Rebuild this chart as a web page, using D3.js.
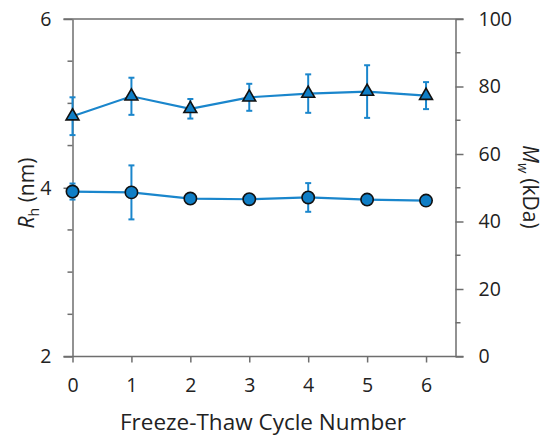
<!DOCTYPE html>
<html><head><meta charset="utf-8">
<script src="https://cdn.jsdelivr.net/npm/d3@7/dist/d3.min.js"></script>
<style>body{margin:0;background:#fff}svg{display:block}text{font-family:"Open Sans",sans-serif;fill:#222}</style>
</head><body><svg id="c" width="548" height="436"></svg>
<script>
const cycles = [0,1,2,3,4,5,6];
const rh = [3.955,3.945,3.872,3.864,3.885,3.860,3.848];
const rhErr = [0.095,0.32,0.03,0.03,0.17,0.02,0.02];
const mw = [71.2,77.1,73.4,76.8,77.9,78.5,77.3];
const mwErr = [5.6,5.5,2.9,4.0,5.7,7.8,4.0];
const xTicks = [0,1,2,3,4,5,6];
const rhTicks = [2,4,6];
const rhMinor = [2.5,3,3.5,4.5,5,5.5];
const mwTicks = [0,20,40,60,80,100];
const mwMinor = [10,30,50,70,90];

const svg = d3.select("#c");
const FONT = "'Open Sans', sans-serif";
const L=72.5, R=455.5, T=19, B=356.5;
const x = d3.scaleLinear().domain([0,6.5]).range([L,R]);
const yL = d3.scaleLinear().domain([2,6]).range([B,T]);
const yR = d3.scaleLinear().domain([0,100]).range([B,T]);
const blue="#1a86cc", fillB="#0f7ec6", axisC="#6e6e6e";

svg.append("line").attr("x1",L-9).attr("x2",R+8).attr("y1",T).attr("y2",T).attr("stroke",axisC).attr("stroke-width",1.5);
const ax = d3.axisBottom(x).tickValues(xTicks).tickFormat(d3.format("d")).tickSize(6).tickSizeOuter(0).tickPadding(16);
const gx = svg.append("g").attr("transform",`translate(0,${B})`).call(ax);
gx.select(".domain").attr("d",`M${L-9},0H${R+8}`);
const ayL = d3.axisLeft(yL).tickValues(rhTicks).tickFormat(d3.format("d")).tickSize(9).tickSizeOuter(0).tickPadding(12);
const gyl = svg.append("g").attr("transform",`translate(${L},0)`).call(ayL);
gyl.selectAll(".minor").data(rhMinor).enter().append("line").attr("x1",-5).attr("x2",0).attr("y1",d=>yL(d)).attr("y2",d=>yL(d)).attr("stroke",axisC).attr("stroke-width",1.5);
const ayR = d3.axisRight(yR).tickValues(mwTicks).tickFormat(d3.format("d")).tickSize(8).tickSizeOuter(0).tickPadding(15);
const gyr = svg.append("g").attr("transform",`translate(${R},0)`).call(ayR);
gyr.selectAll(".minor").data(mwMinor).enter().append("line").attr("x1",0).attr("x2",5).attr("y1",d=>yR(d)).attr("y2",d=>yR(d)).attr("stroke",axisC).attr("stroke-width",1.5);
[gx,gyl,gyr].forEach(a=>{
  a.attr("font-family",FONT).attr("font-size",19.5);
  a.selectAll(".domain").attr("stroke",axisC).attr("stroke-width",1.5);
  a.selectAll(".tick line").attr("stroke",axisC).attr("stroke-width",1.5);
  a.selectAll(".tick text").attr("fill","#222");
});

svg.append("text").attr("x",263).attr("y",430).attr("text-anchor","middle").style("font-size","22.5px").text("Freeze-Thaw Cycle Number");
const tl = svg.append("text").attr("transform","translate(34,193) rotate(-90)").attr("text-anchor","middle").style("font-size","21px");
tl.append("tspan").style("font-style","italic").text("R");
tl.append("tspan").attr("dy",5).style("font-size","14px").text("h");
tl.append("tspan").attr("dy",-5).text(" (nm)");
const tr = svg.append("text").attr("transform","translate(523,187) rotate(90)").attr("text-anchor","middle").style("font-size","21px");
tr.append("tspan").style("font-style","italic").text("M");
tr.append("tspan").attr("dy",5).style("font-size","14px").style("font-style","italic").text("w");
tr.append("tspan").attr("dy",-5).text(" (kDa)");

function series(vals, errs, y, sym){
  const s = svg.append("g");
  const pts = cycles.map((c,i)=>({c, v:vals[i], e:errs[i]}));
  s.append("path").datum(pts).attr("fill","none").attr("stroke",blue).attr("stroke-width",2.2)
   .attr("d",d3.line().x(d=>x(d.c)).y(d=>y(d.v)));
  const eb = s.selectAll(".eb").data(pts).enter().append("g");
  eb.append("line").attr("x1",d=>x(d.c)).attr("x2",d=>x(d.c)).attr("y1",d=>y(d.v-d.e)).attr("y2",d=>y(d.v+d.e)).attr("stroke",blue).attr("stroke-width",2);
  ["-","+"].forEach(sg=>eb.append("line").attr("x1",d=>x(d.c)-3).attr("x2",d=>x(d.c)+3)
     .attr("y1",d=>y(sg=="+"?d.v+d.e:d.v-d.e)).attr("y2",d=>y(sg=="+"?d.v+d.e:d.v-d.e)).attr("stroke",blue).attr("stroke-width",2));
  s.selectAll(".m").data(pts).enter().append("path")
   .attr("transform",d=>`translate(${x(d.c)},${y(d.v)})`)
   .attr("d",d3.symbol().type(sym).size(sym===d3.symbolCircle?120:72))
   .attr("fill",fillB).attr("stroke","#111").attr("stroke-width",1.6);
}
series(mw, mwErr, yR, d3.symbolTriangle);
series(rh, rhErr, yL, d3.symbolCircle);
</script></body></html>
